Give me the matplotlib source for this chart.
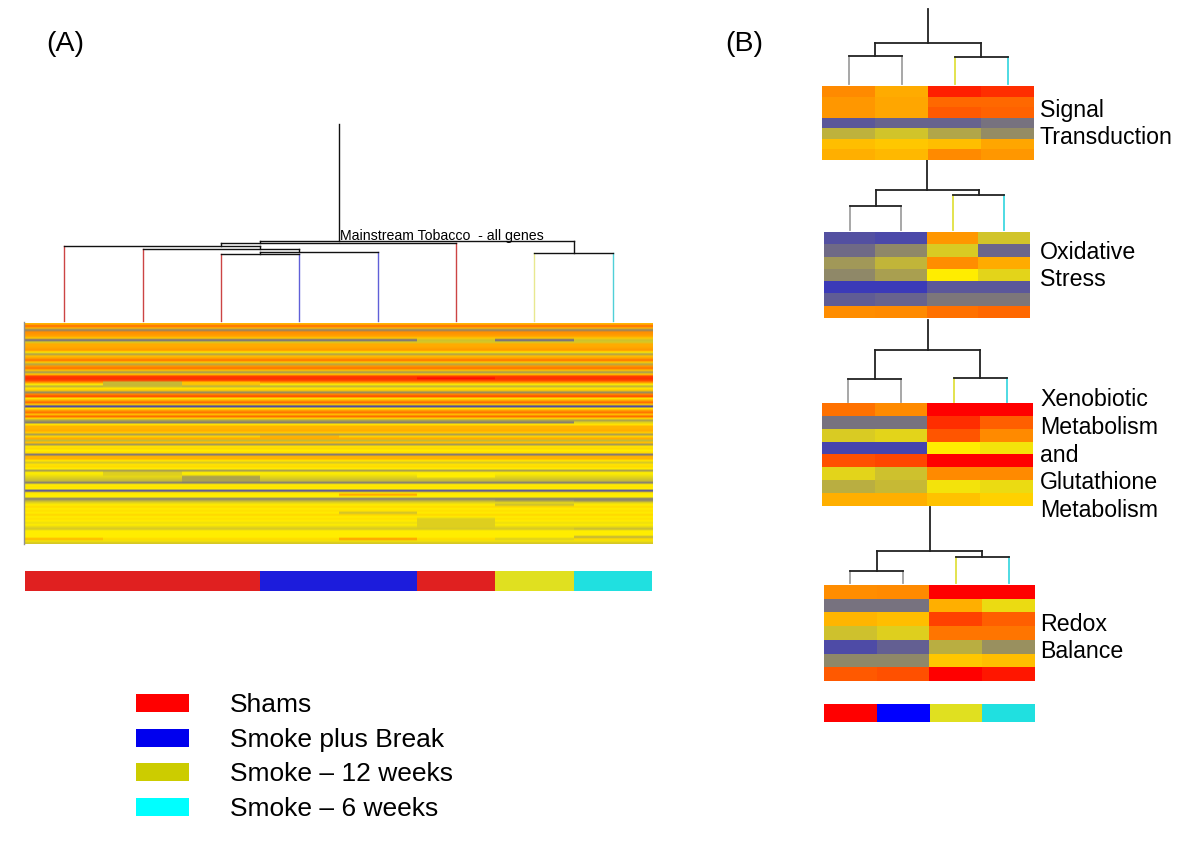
import numpy as np
import matplotlib
matplotlib.use("Agg")
import matplotlib.pyplot as plt
from matplotlib.colors import LinearSegmentedColormap

plt.rcParams['font.family'] = ['Liberation Sans', 'DejaVu Sans']

# gene expression, 0 = blue, 0.5 = yellow, 1 = red
all_genes_rows = [
    .62, .78, .62, .22, .70, .68, .66, .58, .14, .40, .64, .64, .66, .68, .52, .30, .60,
    .66, .76, .58, .32, .68, .76, .60, .28, .58, .86, .90, .86, .70, .50, .34, .52, .58,
    .24, .72, .84, .52, .64, .78, .58, .04, .52, .66, .76, .60, .78, .56, .30, .20, .52,
    .62, .62, .64, .58, .30, .56, .64, .36, .60, .28, .52, .54, .50, .54, .18, .62, .62,
    .52, .40, .52, .54, .50, .28, .50, .48, .44, .40, .36, .20, .50, .52, .50, .06, .52,
    .50, .50, .20, .34, .44, .50, .54, .50, .53, .50, .55, .50, .53, .50, .46, .50, .44,
    .40, .50, .50, .50, .50, .54, .47, .40,
]
# cells that differ from the rest of their row: row, column, value
all_genes_cells = [
    (29, 1, .36), (30, 1, .36), (31, 1, .36), (29, 2, .60), (30, 2, .58),
    (27, 5, .98), (76, 2, .30), (77, 2, .30), (78, 2, .30),
    (74, 5, .50), (75, 5, .50), (76, 5, .50), (74, 1, .42), (75, 1, .42),
    (107, 0, .62), (107, 4, .68), (85, 4, .66), (94, 4, .38), (102, 4, .40),
    (88, 6, .30), (88, 7, .26), (90, 6, .38), (8, 5, .38), (8, 6, .12), (8, 7, .38),
    (97, 5, .42), (98, 5, .42), (99, 5, .42), (100, 5, .42), (101, 5, .42),
    (107, 6, .42), (106, 7, .34), (102, 7, .36), (56, 3, .62), (49, 7, .42),
]

signal = [[.71, .64, .93, .90], [.68, .65, .78, .78], [.68, .65, .81, .79], [.10, .13, .13, .17],
          [.34, .39, .31, .24], [.60, .58, .60, .65], [.63, .61, .71, .68]]
oxidative = [[.08, .06, .68, .39], [.15, .23, .41, .14], [.27, .35, .70, .64], [.23, .29, .50, .43],
             [.02, .02, .10, .10], [.11, .13, .18, .18], [.70, .71, .76, .78]]
xenobiotic = [[.76, .71, 1, 1], [.17, .17, .90, .80], [.41, .43, .82, .71], [.05, .05, .50, .47],
              [.83, .85, 1, 1], [.43, .38, .71, .71], [.33, .36, .47, .45], [.63, .63, .59, .56]]
redox = [[.70, .71, 1, 1], [.17, .17, .63, .45], [.62, .60, .86, .80], [.38, .42, .75, .75],
         [.07, .12, .33, .25], [.23, .23, .58, .60], [.81, .83, 1, .95]]

# tree merges: child, child, height. children >= leaf count are earlier merges
all_genes_tree = [(2, 3, 67), (8, 4, 69), (9, 1, 72.5), (10, 0, 75.5), (11, 5, 78.5), (6, 7, 68.3), (12, 13, 80.5)]
signal_tree = [(0, 1, 28), (2, 3, 27), (4, 5, 41)]
oxidative_tree = [(0, 1, 24), (2, 3, 35), (4, 5, 40)]
xenobiotic_tree = [(0, 1, 23), (2, 3, 24), (4, 5, 52)]
redox_tree = [(0, 1, 12), (2, 3, 26), (4, 5, 32)]

group_names = ['Shams', 'Smoke plus Break', 'Smoke \u2013 12 weeks', 'Smoke \u2013 6 weeks']
all_genes_groups = [0, 0, 0, 1, 1, 0, 2, 3]
subset_groups = [0, 1, 2, 3]
subset_labels = ['Signal\nTransduction', 'Oxidative\nStress',
                 'Xenobiotic\nMetabolism\nand\nGlutathione\nMetabolism', 'Redox\nBalance']

legend_colors = ['#ff0000', '#0000ee', '#cccc00', '#00ffff']
bar_a_colors = ['#e02020', '#1c1cdc', '#e0e020', '#20e0e0']
bar_b_colors = ['#ff0000', '#0000ff', '#e0e020', '#20e0e0']
stem_a_colors = ['#cc4444', '#6060d8', '#e8e890', '#50d0d8']
stem_b_colors = ['#a0a0a0', '#a0a0a0', '#e0e040', '#40d8e0']

cmap = LinearSegmentedColormap.from_list('expr', ['#3333c0', '#ffee00', '#ff0000'])

fig = plt.figure(figsize=(12, 8.53), dpi=100)
# whole figure is one axes counted in pixels
ax = fig.add_axes([0, 0, 1, 1])
ax.axis('off')


def heat(data, x0, x1, y0, y1):
    ax.imshow(data, cmap=cmap, vmin=0, vmax=1, extent=(x0, x1, y1, y0),
              aspect='auto', interpolation='nearest', zorder=2)


def soft_heat(data, x0, x1, y0, y1):
    # one image per column so rows blur like the scan but columns stay sharp
    w = (x1 - x0) / data.shape[1]
    for c in range(data.shape[1]):
        ax.imshow(data[:, [c]], cmap=cmap, vmin=0, vmax=1,
                  extent=(x0 + c * w, x0 + (c + 1) * w, y1, y0),
                  aspect='auto', interpolation='bilinear', zorder=2)


def tree(merges, x0, x1, bottom, top, colors, groups, low_color, high_color, lw):
    n = len(groups)
    w = (x1 - x0) / n
    # node: first leaf x, last leaf x, height
    nodes = [(x0 + (i + .5) * w, x0 + (i + .5) * w, 0) for i in range(n)]
    for a, b, h in merges:
        for c in (a, b):
            cx = (nodes[c][0] + nodes[c][1]) / 2
            col = colors[groups[c]] if c < n else high_color
            ax.plot([cx, cx], [bottom - nodes[c][2], bottom - h], color=col, lw=lw, zorder=1)
        xa = (nodes[a][0] + nodes[a][1]) / 2
        xb = (nodes[b][0] + nodes[b][1]) / 2
        col = low_color if max(a, b) < n and groups[a] == groups[b] else high_color
        ax.plot([xa, xb], [bottom - h, bottom - h], color=col, lw=lw, zorder=1)
        nodes.append((min(nodes[a][0], nodes[b][0]), max(nodes[a][1], nodes[b][1]), h))
    rx = (nodes[-1][0] + nodes[-1][1]) / 2
    ax.plot([rx, rx], [bottom - nodes[-1][2], top], color=high_color, lw=lw, zorder=1)


def group_bar(groups, colors, x0, x1, y0, y1):
    w = (x1 - x0) / len(groups)
    for i, g in enumerate(groups):
        ax.bar(x0 + (i + .5) * w, y1 - y0, width=w, bottom=y0, color=colors[g], lw=0)


# panel A
all_genes = np.tile(np.array(all_genes_rows)[:, None], (1, 8))
for r, c, v in all_genes_cells:
    all_genes[r, c] = v
soft_heat(all_genes, 25, 652, 323, 544)
ax.plot([23.5, 23.5], [322, 544], color='#909090', lw=1.0)
tree(all_genes_tree, 25, 652, 321, 124, stem_a_colors, all_genes_groups, '#555555', '#111111', 1.0)
group_bar(all_genes_groups, bar_a_colors, 25, 652, 571, 591)
ax.text(340, 235, 'Mainstream Tobacco  - all genes', fontsize=10.2, ha='left', va='center')
ax.text(46, 43, '(A)', fontsize=20.5, ha='left', va='center')

# panel B
subsets = [
    (signal, signal_tree, 822, 1034, 86, 160, 84, 9),
    (oxidative, oxidative_tree, 824, 1030, 232, 318, 230, 160),
    (xenobiotic, xenobiotic_tree, 822, 1033, 403, 506, 402, 320),
    (redox, redox_tree, 824, 1035, 585, 681, 583, 507),
]
label_y = [123, 265, 454, 637]
for (data, merges, x0, x1, y0, y1, bottom, top), label, ly in zip(subsets, subset_labels, label_y):
    heat(data, x0, x1, y0, y1)
    tree(merges, x0, x1, bottom, top, stem_b_colors, subset_groups, '#a0a0a0', '#222222', 1.3)
    ax.text(1040, ly, label, fontsize=16.7, ha='left', va='center', linespacing=1.27)
group_bar(subset_groups, bar_b_colors, 824, 1035, 704, 722)
ax.text(725, 43, '(B)', fontsize=20.5, ha='left', va='center')

# legend
legend_y = [703, 737.5, 772, 807]
for name, col, y in zip(group_names, legend_colors, legend_y):
    ax.bar(162.5, 18, width=53, bottom=y - 9, color=col, lw=0)
    ax.text(230, y + 1, name, fontsize=19, ha='left', va='center')

ax.set_xlim(0, 1200)
ax.set_ylim(852, -1)
fig.savefig('out.png', dpi=100)
